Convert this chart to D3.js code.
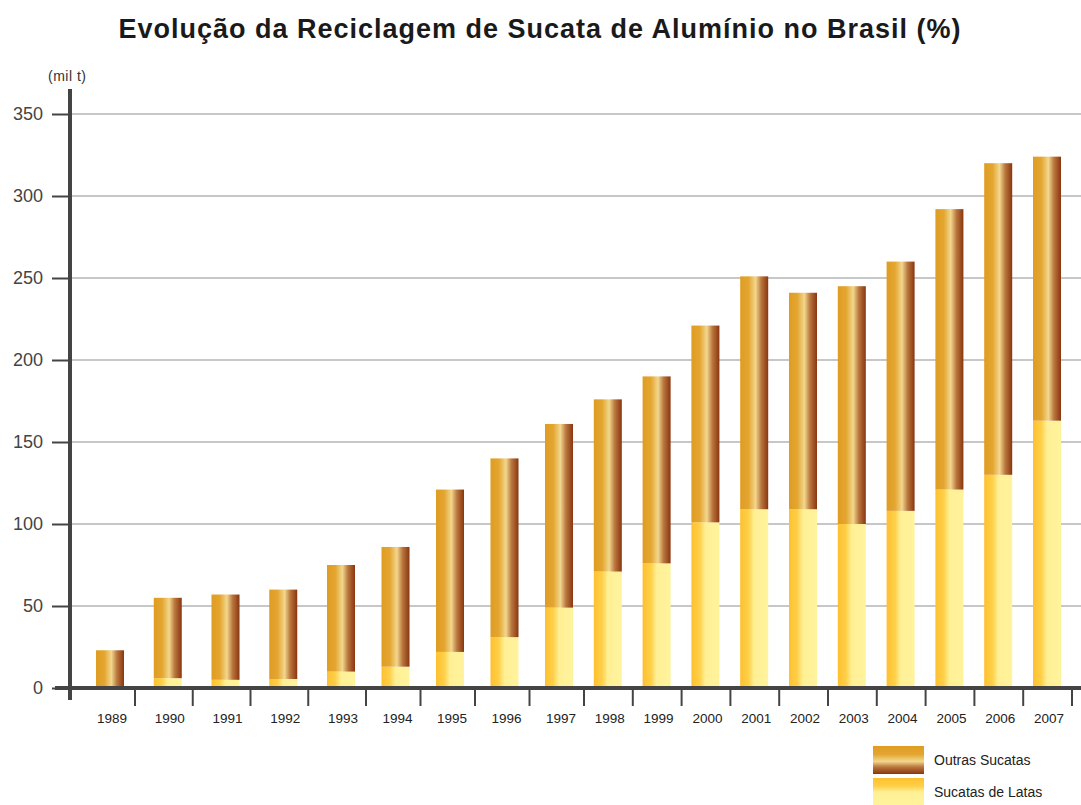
<!DOCTYPE html>
<html>
<head>
<meta charset="utf-8">
<script src="https://cdn.jsdelivr.net/npm/d3@7"></script>
<style>
  body { margin: 0; background: #fff; }
  text { font-family: "Liberation Sans", Arial, sans-serif; }
</style>
</head>
<body>
<div id="chart"></div>
<script>
// data (mil t)
const years = [1989, 1990, 1991, 1992, 1993, 1994, 1995, 1996, 1997, 1998,
               1999, 2000, 2001, 2002, 2003, 2004, 2005, 2006, 2007];
const latas = [0, 6, 5, 5.5, 10, 13, 22, 31, 49, 71, 76, 101, 109, 109, 100, 108, 121, 130, 163];
const outras = [23, 49, 52, 54.5, 65, 73, 99, 109, 112, 105, 114, 120, 142, 132, 145, 152, 171, 190, 161];
const yTicks = [0, 50, 100, 150, 200, 250, 300, 350];
const seriesNames = ["Outras Sucatas", "Sucatas de Latas"];

const width = 1081, height = 805;
const barW = 28;

const svg = d3.select("#chart").append("svg")
    .attr("width", width)
    .attr("height", height);

// gradients
const defs = svg.append("defs");
function gradient(id, stops, vertical) {
    const g = defs.append("linearGradient").attr("id", id)
        .attr("x1", 0).attr("y1", 0)
        .attr("x2", vertical ? 0 : 1).attr("y2", vertical ? 1 : 0);
    stops.forEach(s => g.append("stop").attr("offset", s[0]).attr("stop-color", s[1]));
}
const outrasStops = [[0, "#df9c22"], [0.3, "#e4a631"], [0.55, "#f2d78e"], [0.75, "#b9773d"], [1, "#8a3510"]];
const latasStops = [[0, "#fec02e"], [0.3, "#ffd04a"], [0.5, "#fff096"], [1, "#fff39c"]];
gradient("gOutras", outrasStops, false);
gradient("gLatas", latasStops, false);
gradient("gOutrasV", outrasStops, true);
gradient("gLatasV", latasStops, true);

// scales (the original spaces the years a little unevenly)
const x = d3.scaleLinear()
    .domain([1989, 1993, 1997, 2007])
    .range([110, 341, 559, 1047]);

const y = d3.scaleLinear()
    .domain([0, 350])
    .range([688, 114]);

// title
svg.append("text")
    .attr("x", 540)
    .attr("y", 38)
    .attr("text-anchor", "middle")
    .style("font-size", "27px")
    .style("font-weight", "bold")
    .style("letter-spacing", "1px")
    .style("fill", "#1a1a1a")
    .text("Evolução da Reciclagem de Sucata de Alumínio no Brasil (%)");

// unit label
svg.append("text")
    .attr("x", 48)
    .attr("y", 81)
    .style("font-size", "14px")
    .style("letter-spacing", "0.5px")
    .style("fill", "#333")
    .text("(mil t)");

// gridlines
svg.append("g")
    .selectAll("line")
    .data(yTicks.filter(d => d > 0))
    .enter()
    .append("line")
    .attr("x1", 70)
    .attr("x2", width)
    .attr("y1", d => y(d))
    .attr("y2", d => y(d))
    .attr("stroke", "#b5b5b5")
    .attr("stroke-width", 1.5);

// y axis with left ticks
const yAxis = svg.append("g")
    .attr("transform", "translate(70,0)")
    .call(d3.axisLeft(y).tickValues(yTicks).tickSize(18).tickPadding(9));
yAxis.select(".domain").remove();
yAxis.selectAll(".tick line").attr("stroke", "#444").attr("stroke-width", 2);
yAxis.selectAll(".tick text")
    .style("font-size", "18px")
    .style("fill", "#444")
    .style("font-family", "Liberation Sans, Arial, sans-serif");

// bars
const stack = years.map((yr, i) => ({ year: yr, latas: latas[i], outras: outras[i] }));

const bars = svg.append("g");
bars.selectAll(".latas")
    .data(stack)
    .enter()
    .append("rect")
    .attr("class", "latas")
    .attr("x", d => x(d.year) - barW / 2)
    .attr("width", barW)
    .attr("y", d => y(d.latas))
    .attr("height", d => y(0) - y(d.latas))
    .attr("fill", "url(#gLatas)");

bars.selectAll(".outras")
    .data(stack)
    .enter()
    .append("rect")
    .attr("class", "outras")
    .attr("x", d => x(d.year) - barW / 2)
    .attr("width", barW)
    .attr("y", d => y(d.latas + d.outras))
    .attr("height", d => y(d.latas) - y(d.latas + d.outras))
    .attr("fill", "url(#gOutras)");

// x axis
const xAxis = svg.append("g")
    .attr("transform", "translate(0,688)");
xAxis.append("line")
    .attr("x1", 55).attr("x2", width)
    .attr("y1", 0).attr("y2", 0)
    .attr("stroke", "#444")
    .attr("stroke-width", 4);
xAxis.selectAll(".xtick")
    .data(years)
    .enter()
    .append("line")
    .attr("class", "xtick")
    .attr("x1", d => x(d) + barW / 2 + 11)
    .attr("x2", d => x(d) + barW / 2 + 11)
    .attr("y1", 0).attr("y2", 18)
    .attr("stroke", "#444")
    .attr("stroke-width", 2);
xAxis.selectAll(".xlabel")
    .data(years)
    .enter()
    .append("text")
    .attr("class", "xlabel")
    .attr("x", d => x(d) + 2)
    .attr("y", 35)
    .attr("text-anchor", "middle")
    .style("font-size", "13.5px")
    .style("fill", "#222")
    .text(d => d);

// y axis main line (drawn on top)
svg.append("line")
    .attr("x1", 70).attr("x2", 70)
    .attr("y1", 89).attr("y2", 700)
    .attr("stroke", "#444")
    .attr("stroke-width", 4);

// legend
const legend = svg.append("g").attr("transform", "translate(873,746)");
legend.selectAll("rect")
    .data(seriesNames)
    .enter()
    .append("rect")
    .attr("x", 0)
    .attr("y", (d, i) => i * 32)
    .attr("width", 51)
    .attr("height", 28)
    .attr("fill", (d, i) => i === 0 ? "url(#gOutrasV)" : "url(#gLatasV)");
legend.selectAll("text")
    .data(seriesNames)
    .enter()
    .append("text")
    .attr("x", 61)
    .attr("y", (d, i) => i * 32 + 19)
    .style("font-size", "14px")
    .style("fill", "#222")
    .text(d => d);
</script>
</body>
</html>
